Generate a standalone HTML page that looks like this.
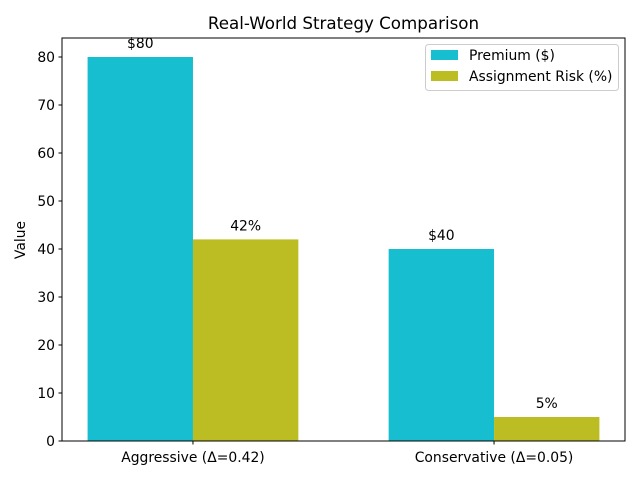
<!DOCTYPE html>
<html><head><meta charset="utf-8"><style>
body{margin:0;background:#fff;}
svg text{font-family:"DejaVu Sans","Liberation Sans",sans-serif;fill:#000;}
</style></head><body>
<svg id="chart" width="640" height="480" xmlns="http://www.w3.org/2000/svg">
<rect width="640" height="480" fill="#fff"/>
<text x="343.5" y="29" font-size="16.7" text-anchor="middle">Real-World Strategy Comparison</text>
<g id="marks"></g>
<g id="axes"></g>
<rect x="62" y="38" width="563" height="403" fill="none" stroke="#000" stroke-width="1"/>
<text transform="translate(25,240) rotate(-90)" font-size="13.9" text-anchor="middle">Value</text>
<g>
<rect x="425.5" y="44.5" width="193" height="46" rx="3" fill="#fff" fill-opacity="0.8" stroke="#ccc"/>
<rect x="431" y="50" width="27" height="10" fill="#17becf"/>
<text x="469" y="60" font-size="13.9">Premium ($)</text>
<rect x="431" y="71" width="27" height="10" fill="#bcbd22"/>
<text x="469" y="81" font-size="13.9">Assignment Risk (%)</text>
</g>
</svg>
<script>
const categories=["Aggressive (Δ=0.42)","Conservative (Δ=0.05)"];
const premium=[80,40];
const risk=[42,5];
const premiumLabels=["$80","$40"];
const riskLabels=["42%","5%"];
const yTicks=[0,10,20,30,40,50,60,70,80];
const NS="http://www.w3.org/2000/svg";
const L=62,R=625,T=38,B=441,yMax=83.96,xMin=-0.435,xMax=1.435,W=0.35;
const ys=v=>B-(v/yMax)*(B-T);
const xs=v=>L+(v-xMin)/(xMax-xMin)*(R-L);
function mk(tag,attrs,parent){const e=document.createElementNS(NS,tag);for(const k in attrs)e.setAttribute(k,attrs[k]);parent.appendChild(e);return e;}
const marks=document.getElementById('marks'),axes=document.getElementById('axes');
function bars(vals,labels,off,color,nm){
vals.forEach((v,i)=>{
const x0=xs(i+off-W/2),x1=xs(i+off+W/2);
const r=mk('rect',{x:x0,y:ys(v),width:x1-x0,height:B-ys(v),fill:color},marks);


const t=mk('text',{x:(x0+x1)/2,y:ys(v)-9,'font-size':13.9,'text-anchor':'middle'},marks);
t.textContent=labels[i];


});}
bars(premium,premiumLabels,-W/2,'#17becf','premium');
bars(risk,riskLabels,W/2,'#bcbd22','risk');
yTicks.forEach(v=>{
mk('line',{x1:L-3.5,x2:L,y1:ys(v),y2:ys(v),stroke:'#000'},axes);
const t=mk('text',{x:L-7,y:ys(v)+5,'font-size':13.9,'text-anchor':'end'},axes);
t.textContent=v;


});
categories.forEach((c,i)=>{
mk('line',{x1:xs(i),x2:xs(i),y1:B,y2:B+3.5,stroke:'#000'},axes);
const t=mk('text',{x:xs(i),y:B+21,'font-size':13.9,'text-anchor':'middle'},axes);
t.textContent=c;


});
</script>
</body></html>
